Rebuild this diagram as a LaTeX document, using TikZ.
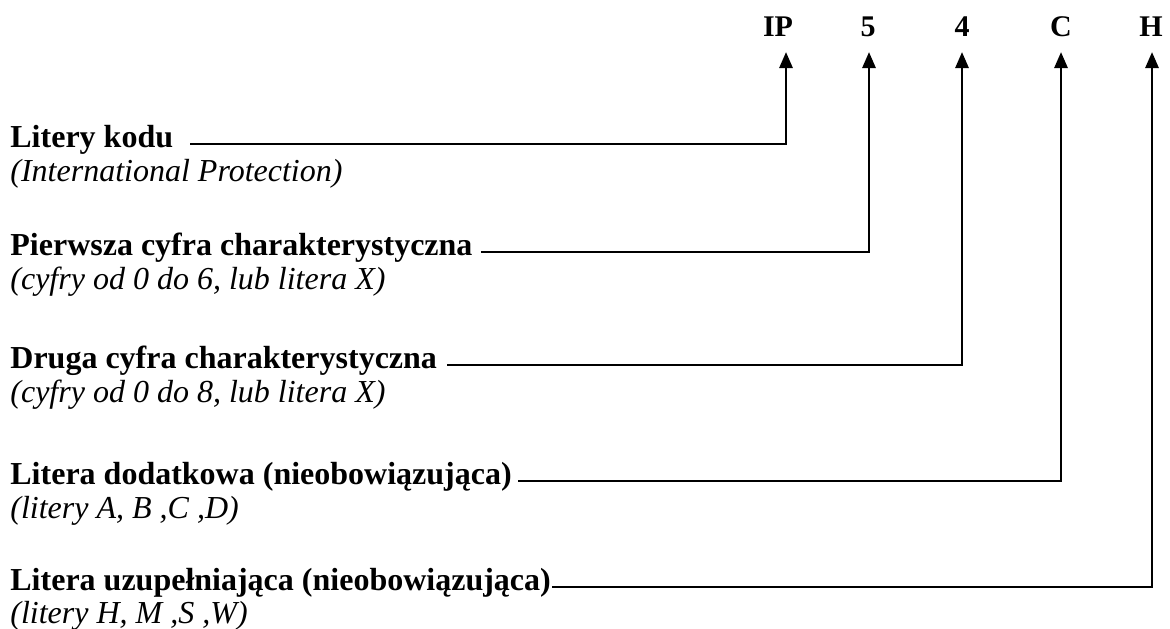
\documentclass[tikz,border=0pt]{standalone}
\usepackage{fontspec}
\setmainfont{Liberation Serif}
\usetikzlibrary{arrows.meta,calc}
\begin{document}
\begin{tikzpicture}[x=0.5pt,y=-0.5pt,
  code/.style={font=\fontsize{15}{15}\selectfont\bfseries, anchor=base, inner sep=0pt},
  lab/.style={font=\fontsize{16}{16}\selectfont\bfseries, anchor=base west, inner sep=0pt},
  sub/.style={font=\fontsize{16}{16}\selectfont\itshape, anchor=base west, inner sep=0pt},
  conn/.style={line width=1.4pt, -{Triangle[width=6.5pt,length=8pt]}}]
\useasboundingbox (0,0) rectangle (1170,628);
% code letters
\node[code] (cIP) at (778,36) {IP};
\node[code] (c5)  at (868,36) {5};
\node[code] (c4)  at (962,36) {4};
\node[code] (cC)  at (1061,36) {C};
\node[code] (cH)  at (1151,36) {H};
\coordinate (tIP) at ($(cIP.base)+(8,16)$);
\coordinate (t5)  at ($(c5.base)+(1,16)$);
\coordinate (t4)  at ($(c4.base)+(0,16)$);
\coordinate (tC)  at ($(cC.base)+(0,16)$);
\coordinate (tH)  at ($(cH.base)+(1,16)$);
% descriptions
\node[lab] (k1) at (10,147) {Litery kodu};
\node[sub] (d1) at (10,181) {(International Protection)};
\node[lab] (k2) at (10,255) {Pierwsza cyfra charakterystyczna};
\node[sub] (d2) at (10,289) {(cyfry od 0 do 6, lub litera X)};
\node[lab] (k3) at (10,368) {Druga cyfra charakterystyczna};
\node[sub] (d3) at (10,402) {(cyfry od 0 do 8, lub litera X)};
\node[lab] (k4) at (10,484) {Litera dodatkowa (nieobowiązująca)};
\node[sub] (d4) at (10,518) {(litery A, B ,C ,D)};
\node[lab] (k5) at (10,590) {Litera uzupełniająca (nieobowiązująca)};
\node[sub] (d5) at (10,623) {(litery H, M ,S ,W)};
% line starts
\coordinate (s1) at ($(k1.base east)+(17,-3)$);
\coordinate (s2) at ($(k2.base east)+(8,-3)$);
\coordinate (s3) at ($(k3.base east)+(10,-3)$);
\coordinate (s4) at ($(k4.base east)+(6,-3)$);
\coordinate (s5) at ($(k5.base east)+(1,-3)$);
% connectors
\draw[conn] (s1) -| (tIP);
\draw[conn] (s2) -| (t5);
\draw[conn] (s3) -| (t4);
\draw[conn] (s4) -| (tC);
\draw[conn] (s5) -| (tH);
\end{tikzpicture}
\end{document}
